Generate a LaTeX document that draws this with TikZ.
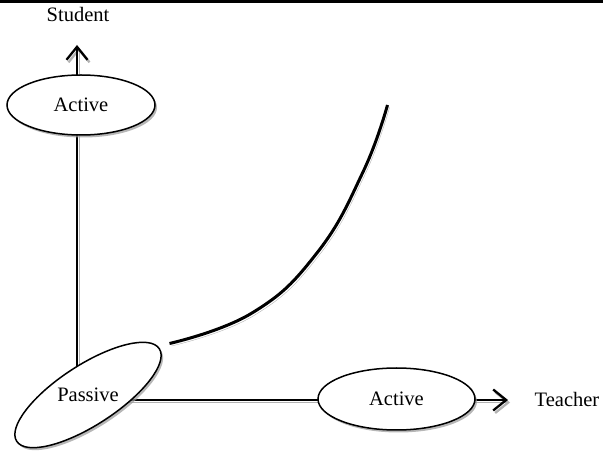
\documentclass[tikz,border=0pt]{standalone}
\usepackage{fontspec}
\setmainfont{Liberation Serif}
\usetikzlibrary{shapes.geometric,arrows.meta,shadows,backgrounds}
\begin{document}
\begin{tikzpicture}[x=1pt,y=-1pt,
  every node/.style={font=\fontsize{20.5}{24}\selectfont},
  oval/.style={ellipse, draw, line width=1.5pt, fill=white, inner sep=0pt,
    drop shadow={shadow xshift=2pt, shadow yshift=-2.5pt, fill=black!40, opacity=0.7}},
  conn/.style={line width=1.6pt},
  shad/.style={preaction={draw=black!30, transform canvas={xshift=2pt, yshift=-2.5pt}}},
  tip/.style={-{Straight Barb[length=13pt,width=21pt,line width=2.3pt]}}
]
\useasboundingbox (0,0) rectangle (603,454);
\draw[line width=2.6pt] (0,1.3) -- (603,1.3);

% nodes
\node (stu) at (78,14) {Student};
\node[oval, minimum width=148pt, minimum height=60pt] (acts) at (81,105) {Active};
\node[oval, minimum width=170pt, minimum height=60pt, rotate=33] (pas) at (88,395) {};
\node (pastxt) at (88,395) {Passive};
\node[oval, minimum width=157pt, minimum height=62pt] (actt) at (396.5,399) {Active};
\node (tea) at (567,399) {Teacher};

\coordinate (vstart) at (77,385);
\coordinate (stip) at (77,45);
\coordinate (hstart) at (100,400);
\coordinate (ttip) at (508,400);

\begin{pgfonlayer}{background}
\draw[conn, shad, tip] (vstart) -- (stip);
\draw[conn, shad, tip] (hstart) -- (ttip);
\end{pgfonlayer}

% curve
\draw[line width=3pt, shad] plot[smooth, tension=0.75] coordinates
  {(169.5,343.5) (252,313) (316.7,253.3) (363,172) (387.5,105)};
\end{tikzpicture}
\end{document}
